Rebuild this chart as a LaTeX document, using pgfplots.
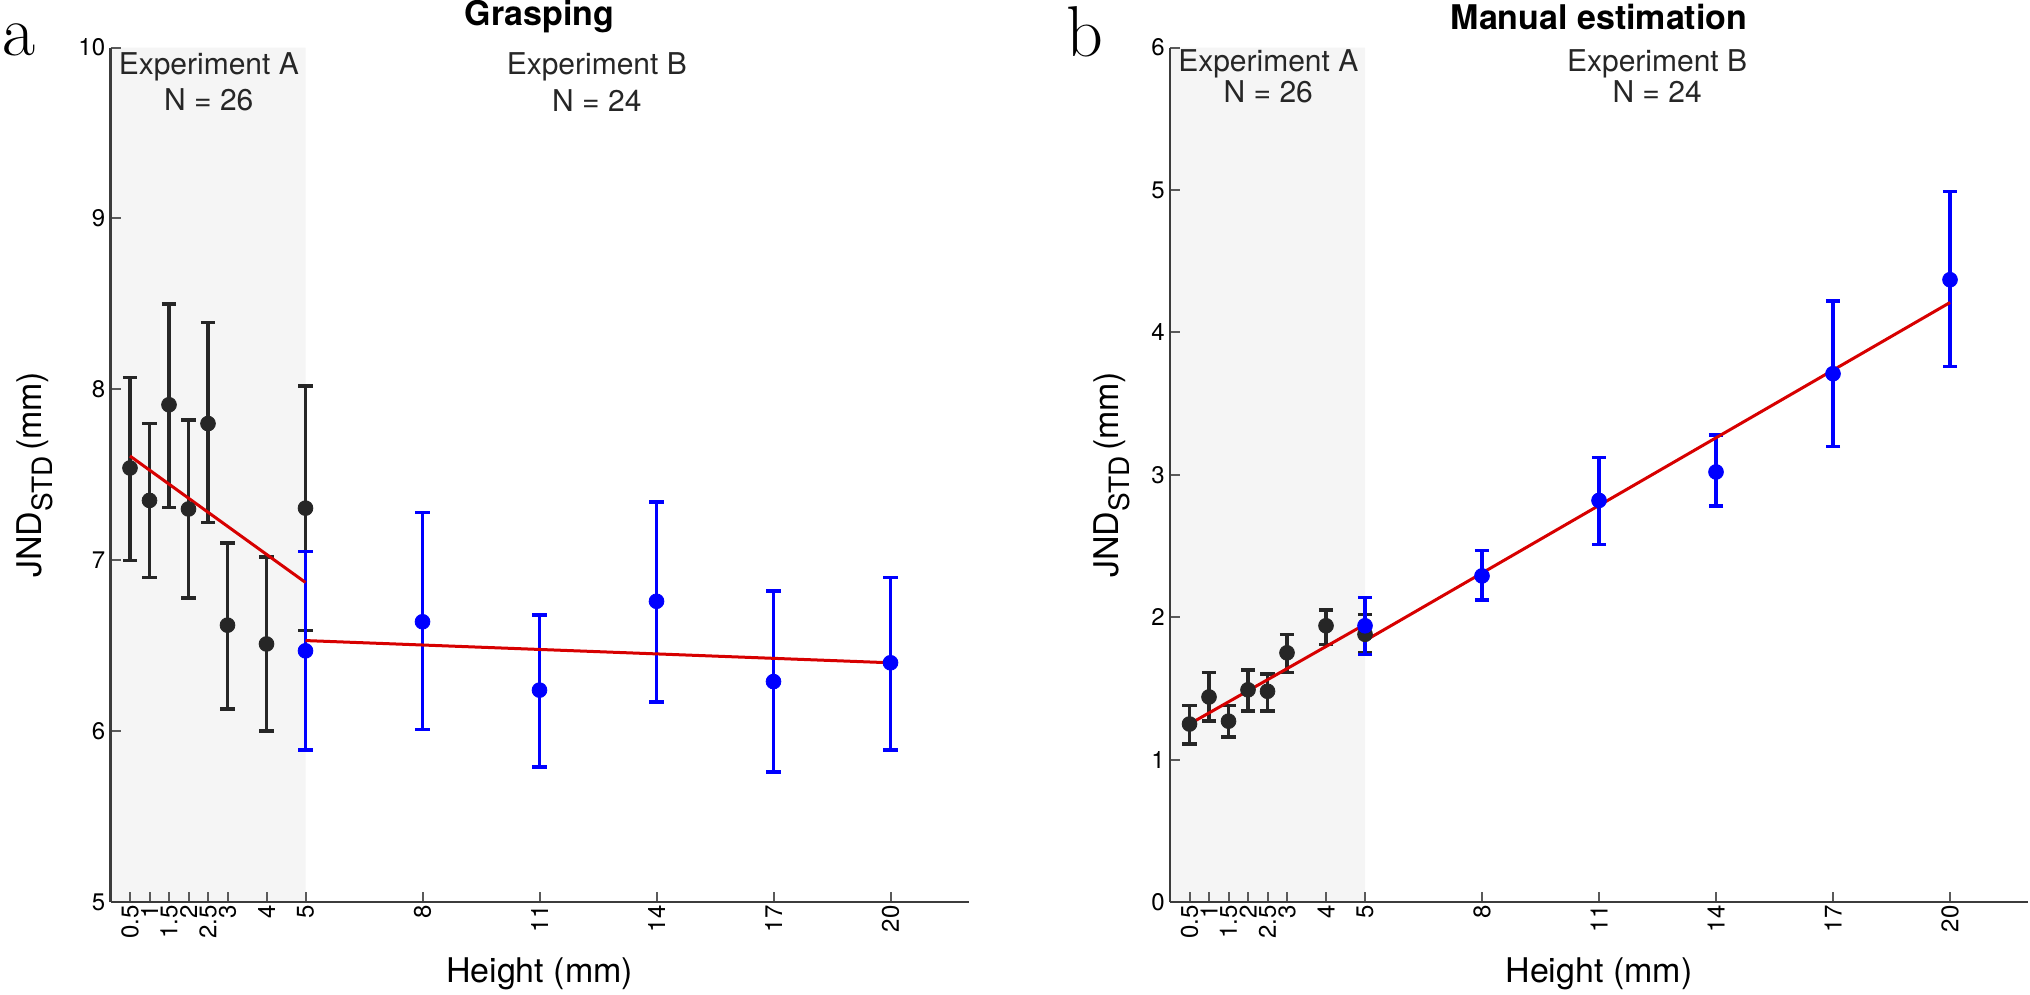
\documentclass[border=0pt]{standalone}
\usepackage{fontspec}
\setmainfont{TeX Gyre Heros}
\usepackage{pgfplots}
\pgfplotsset{compat=1.18}
\usepackage{pgfplotstable}

\definecolor{axgray}{RGB}{60,60,60}
\definecolor{tkgray}{RGB}{90,90,90}
\definecolor{ptdark}{RGB}{38,38,38}
\definecolor{shade}{RGB}{245,245,245}
\definecolor{fitred}{RGB}{215,0,0}
\definecolor{ptblue}{RGB}{0,0,255}

\pgfplotstableread{
x y ep em
0.5 7.54 0.53 0.54
1 7.35 0.45 0.45
1.5 7.91 0.59 0.60
2 7.30 0.52 0.52
2.5 7.80 0.59 0.58
3 6.62 0.48 0.49
4 6.51 0.51 0.51
5 7.305 0.715 0.715
}\graspA
\pgfplotstableread{
x y ep em
5 6.47 0.58 0.58
8 6.64 0.64 0.63
11 6.24 0.44 0.45
14 6.76 0.58 0.59
17 6.29 0.53 0.53
20 6.40 0.50 0.51
}\graspB
\pgfplotstableread{
x y ep em
0.5 1.25 0.13 0.14
1 1.44 0.17 0.17
1.5 1.27 0.11 0.11
2 1.49 0.14 0.15
2.5 1.48 0.12 0.14
3 1.75 0.13 0.14
4 1.94 0.11 0.13
5 1.88 0.14 0.13
}\manualA
\pgfplotstableread{
x y ep em
5 1.94 0.20 0.20
8 2.29 0.18 0.17
11 2.82 0.30 0.31
14 3.02 0.26 0.24
17 3.71 0.51 0.51
20 4.37 0.62 0.61
}\manualB

\newcommand\tickfont{\fontsize{12bp}{12.5bp}\selectfont}
\newcommand\labfont{\fontsize{17bp}{18bp}\selectfont}
\newcommand\annfont{\fontsize{15bp}{16bp}\selectfont}
\newcommand\ylab{JND\raisebox{-0.32em}{\fontsize{14bp}{14bp}\selectfont STD}\,(mm)}

\pgfplotsset{
  panel/.style={
    scale only axis, width=429bp, height=427.2bp, anchor=south west,
    xmin=0, xmax=22,
    axis lines=left,
    axis line style={-, axgray, line width=1.4bp},
    axis on top,
    tick align=inside,
    major tick length=5bp,
    tick style={tkgray, line width=1bp},
    xtick={0.5,1,1.5,2,2.5,3,4,5,8,11,14,17,20},
    xticklabels={0.5,1,1.5,2,2.5,3,4,5,8,11,14,17,20},
    xticklabel style={rotate=90, anchor=east, font=\tickfont, inner sep=1.5bp},
    yticklabel style={font=\tickfont, inner sep=2.5bp},
    /pgf/number format/assume math mode=true,
    xlabel={Height (mm)},
    xlabel style={at={(axis description cs:0.5,-0.0842)}, anchor=center, font=\labfont},
    ylabel={\ylab},
    title style={at={(axis description cs:0.5,1.0222)}, anchor=center, font=\labfont\bfseries},
  },
  eb/.style={
    only marks, mark=*, mark size=3.7bp,
    error bars/y dir=both, error bars/y explicit,
    error bars/error mark=|,
    error bars/error bar style={line width=1.7bp},
    error bars/error mark options={line width=1.7bp, mark size=3.6bp},
  },
  fit/.style={fitred, line width=1.5bp, no marks},
}

\begin{document}
\begin{tikzpicture}
\path[use as bounding box] (0bp,0bp) rectangle (1015bp,-497.5bp);

% ---------- panel a ----------
\begin{axis}[panel, at={(55.25bp,-451bp)},
  ymin=5, ymax=10, ytick={5,6,7,8,9,10},
  title={Grasping},
  ylabel style={at={(axis description cs:-0.0886,0.5)}, anchor=center, rotate=0, font=\labfont},
]
\addplot[fill=shade, draw=none] coordinates {(0,5) (5,5) (5,10) (0,10) (0,5)};
\addplot[eb, ptdark, mark options={fill=ptdark, draw=ptdark}] table[x=x, y=y, y error plus=ep, y error minus=em] {\graspA};
\addplot[eb, ptblue, mark options={fill=ptblue, draw=ptblue}] table[x=x, y=y, y error plus=ep, y error minus=em] {\graspB};
\addplot[fit] coordinates {(0.5,7.61) (5,6.87)};
\addplot[fit] coordinates {(5,6.53) (20,6.40)};
\node[font=\annfont, text=ptdark] at (axis cs:2.52,9.886) {Experiment A};
\node[font=\annfont, text=ptdark] at (axis cs:2.52,9.693) {N = 26};
\node[font=\annfont, text=ptdark] at (axis cs:12.47,9.886) {Experiment B};
\node[font=\annfont, text=ptdark] at (axis cs:12.47,9.693) {N = 24};
\end{axis}

% ---------- panel b ----------
\begin{axis}[panel, at={(585bp,-451bp)},
  ymin=0, ymax=6, ytick={0,1,2,3,4,5,6},
  title={Manual estimation},
  ylabel style={at={(axis description cs:-0.0676,0.5)}, anchor=center, rotate=0, font=\labfont},
]
\addplot[fill=shade, draw=none] coordinates {(0,0) (5,0) (5,6) (0,6) (0,0)};
\addplot[eb, ptdark, mark options={fill=ptdark, draw=ptdark}] table[x=x, y=y, y error plus=ep, y error minus=em] {\manualA};
\addplot[eb, ptblue, mark options={fill=ptblue, draw=ptblue}] table[x=x, y=y, y error plus=ep, y error minus=em] {\manualB};
\addplot[fit] coordinates {(0.5,1.25) (5,1.95)};
\addplot[fit] coordinates {(5,1.835) (20,4.21)};
\node[font=\annfont, text=ptdark] at (axis cs:2.52,5.888) {Experiment A};
\node[font=\annfont, text=ptdark] at (axis cs:2.52,5.688) {N = 26};
\node[font=\annfont, text=ptdark] at (axis cs:12.49,5.888) {Experiment B};
\node[font=\annfont, text=ptdark] at (axis cs:12.49,5.688) {N = 24};
\end{axis}

\node[font=\fontfamily{lmr}\fontsize{36bp}{36bp}\selectfont, inner sep=0pt] at (9.75bp,-20bp) {a};
\node[font=\fontfamily{lmr}\fontsize{36bp}{36bp}\selectfont, inner sep=0pt] at (542.5bp,-16bp) {b};
\end{tikzpicture}
\end{document}
